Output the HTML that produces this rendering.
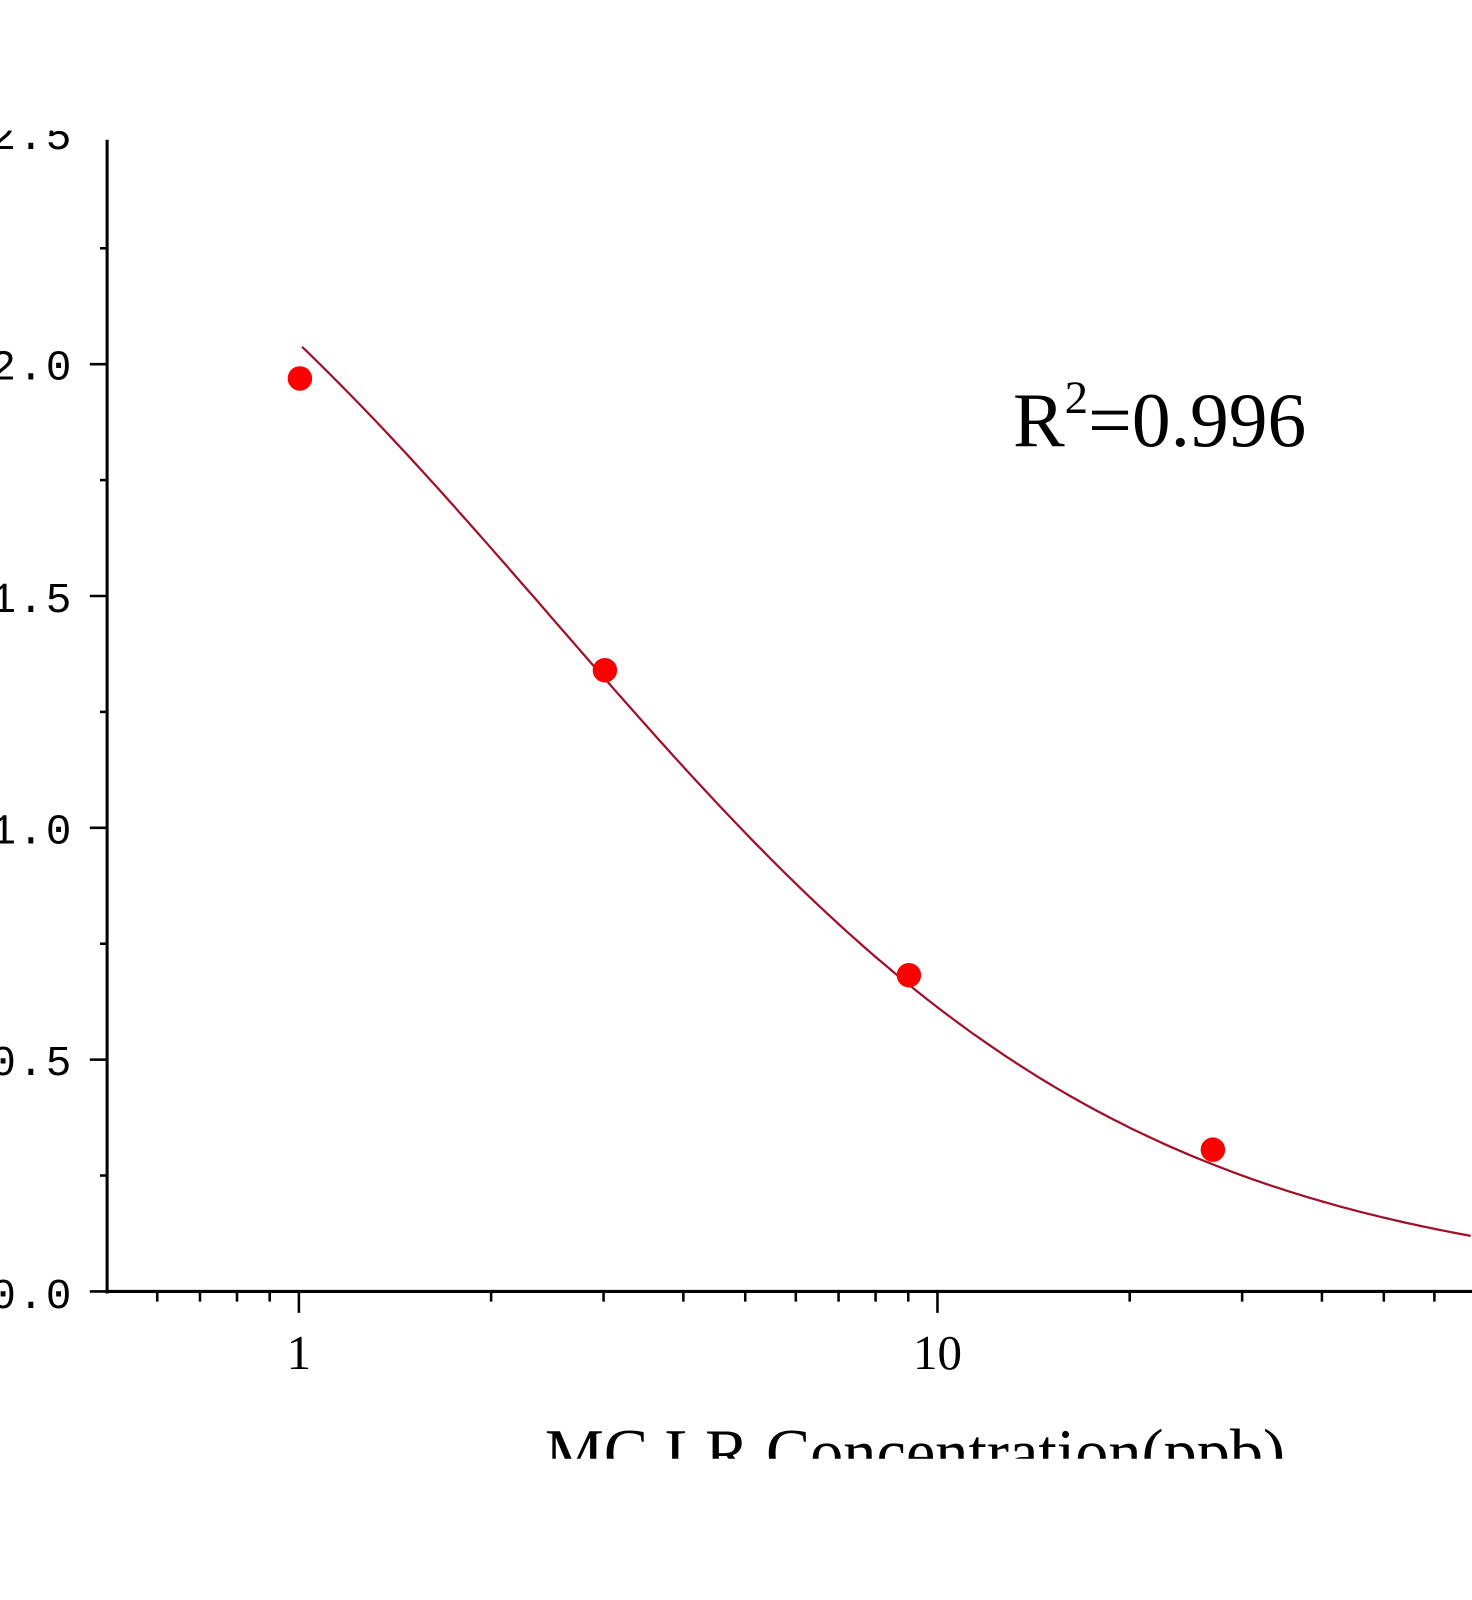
<!DOCTYPE html>
<html><head><meta charset="utf-8"><style>
html,body{margin:0;padding:0;background:#fff;}
svg{display:block;}
</style></head><body>
<svg width="1472" height="1600" viewBox="0 0 1472 1600" xmlns="http://www.w3.org/2000/svg">
<rect width="1472" height="1600" fill="#fff"/>
<g transform="scale(1.0201)">
<g font-family="Liberation Mono, monospace" font-size="42" fill="#000" text-anchor="end">
<text x="72" y="146" letter-spacing="2">2.5</text>
<text x="72" y="372" letter-spacing="2">2.0</text>
<text x="72" y="600" letter-spacing="2">1.5</text>
<text x="72" y="827" letter-spacing="2">1.0</text>
<text x="72" y="1054" letter-spacing="2">0.5</text>
<text x="72" y="1282" letter-spacing="2">0.0</text>
</g>
<rect x="0" y="0" width="1472" height="128" fill="#fff"/>
<g stroke="#000" stroke-width="3" fill="none">
<line x1="105" y1="137" x2="105" y2="1268"/>
<line x1="104" y1="1266" x2="1443" y2="1266"/>
</g>
<g id="ticks" stroke="#000" stroke-width="2.5"></g>
<path id="curve" d="" fill="none" stroke="#a0102a" stroke-width="2.2"/>
<g fill="#ff0000">
<circle cx="294" cy="371" r="12"/>
<circle cx="593" cy="657" r="12"/>
<circle cx="891" cy="956" r="12"/>
<circle cx="1189" cy="1127" r="12"/>
</g>
<g font-family="Liberation Serif, serif" fill="#000">
<text x="293" y="1342" font-size="48" text-anchor="middle">1</text>
<text x="919" y="1342" font-size="48" text-anchor="middle">10</text>
<text x="993" y="437" font-size="76">R<tspan dy="-32" font-size="46">2</tspan><tspan dy="32">=0.996</tspan></text>
<text x="897" y="1446" font-size="65" text-anchor="middle">MC LR Concentration(ppb)</text>
</g>
<rect x="0" y="1430" width="1472" height="170" fill="#fff"/>
</g>
<script>
(function(){
var g=document.getElementById('ticks'),ns='http://www.w3.org/2000/svg';
function ln(a,b,c,d){var l=document.createElementNS(ns,'line');l.setAttribute('x1',a);l.setAttribute('y1',b);l.setAttribute('x2',c);l.setAttribute('y2',d);g.appendChild(l);}
for(var i=0;i<=9;i++){var v=i*0.25;var y=1266-454.5*v;if(y<137)continue;ln(i%2==0?88:98,y,105,y);}
var xs=[0.6,0.7,0.8,0.9,1,2,3,4,5,6,7,8,9,10,20,30,40,50,60,70];
xs.forEach(function(v){var x=293+626*Math.log10(v);if(x>1443)return;var maj=(v==1||v==10);ln(x,1266,x,maj?1287:1276);});
var d='';for(var L=0.005;L<=1.84;L+=0.01){var x=Math.pow(10,L);var v=2.9/(1+Math.pow(x/2.5,0.95));var px=293+626*L,py=1266-454.5*v;d+=(d?'L':'M')+px.toFixed(1)+' '+py.toFixed(1);}
document.getElementById('curve').setAttribute('d',d);
})();
</script>
</svg>
</body></html>
